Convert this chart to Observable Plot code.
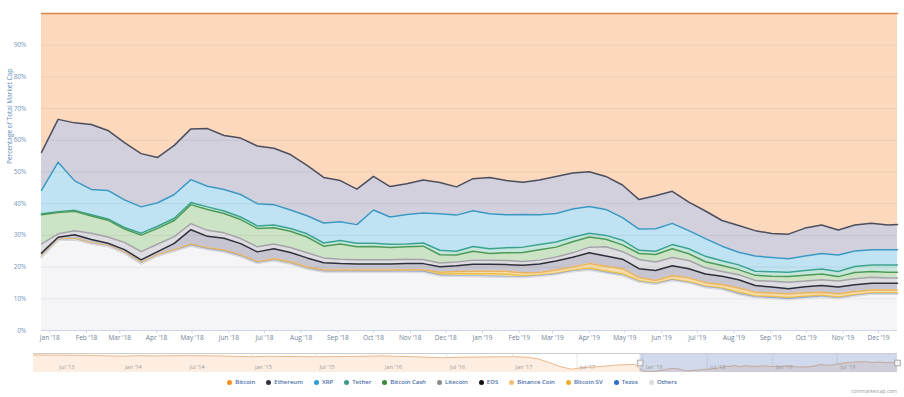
<!DOCTYPE html>
<html><head><meta charset="utf-8">
<script src="https://cdn.jsdelivr.net/npm/d3@7"></script>
<script src="https://cdn.jsdelivr.net/npm/@observablehq/plot@0.6"></script>
<style>
body{margin:0;background:#fff;font-family:"Open Sans",sans-serif;}
#wrap{width:904px;height:397px;position:relative;overflow:hidden}
#wrap svg{display:block}
.legend{display:flex;justify-content:center;align-items:center;height:14px;font-size:6px;font-weight:600;color:#4b6ea8;white-space:nowrap}
.legend .item{display:flex;align-items:center;margin:0 5.5px}
.legend .dot{display:inline-block;width:5px;height:5px;border-radius:50%;margin-right:3px}
.caption{position:absolute;right:7px;top:388px;font-size:5px;color:#9a9a9a}
</style></head><body><div id="wrap"></div>
<script>
// ---- data (percentage of total market cap) ----
const dates = ["2017-12-25","2018-01-08","2018-01-22","2018-02-05","2018-02-19","2018-03-05","2018-03-19","2018-04-02","2018-04-16","2018-04-30","2018-05-14","2018-05-28","2018-06-11","2018-06-25","2018-07-09","2018-07-23","2018-08-06","2018-08-20","2018-09-03","2018-09-17","2018-10-01","2018-10-15","2018-10-29","2018-11-12","2018-11-26","2018-12-10","2018-12-24","2019-01-07","2019-01-21","2019-02-04","2019-02-18","2019-03-04","2019-03-18","2019-04-01","2019-04-15","2019-04-29","2019-05-13","2019-05-27","2019-06-10","2019-06-24","2019-07-08","2019-07-22","2019-08-05","2019-08-19","2019-09-02","2019-09-16","2019-09-30","2019-10-14","2019-10-28","2019-11-11","2019-11-25","2019-12-09","2019-12-17"];
const btc = [43.8,33.4,34.5,35.0,36.9,40.7,44.2,45.4,41.6,36.4,36.3,38.5,39.3,41.8,42.5,44.5,47.9,51.7,52.7,55.4,51.4,54.6,53.7,52.5,53.3,54.7,52.1,51.7,52.7,53.2,52.5,51.4,50.3,49.9,51.4,54.1,58.7,57.5,56.1,59.5,62.3,65.3,66.9,68.5,69.4,69.6,67.7,66.7,68.3,66.7,66.2,66.7,66.6];
const eth = [12.0,13.5,18.3,20.5,18.9,18.1,16.8,14.3,15.5,16.0,18.2,17.0,17.8,18.2,17.8,17.5,15.9,14.4,13.0,11.2,10.6,9.6,9.7,10.4,9.9,8.9,10.1,11.5,10.8,10.2,11.0,11.7,11.4,11.0,10.4,10.3,9.3,10.4,10.1,9.0,8.7,8.1,8.4,8.0,7.6,7.8,8.8,9.0,7.9,8.2,8.3,7.8,7.9];
const xrp = [7.4,15.6,9.3,8.0,9.0,8.7,8.3,7.4,7.5,7.2,6.5,6.8,7.1,7.0,6.4,5.8,5.7,6.3,5.9,5.9,10.5,8.6,9.3,9.5,11.5,11.4,11.3,11.0,10.4,10.3,9.4,9.0,8.9,8.4,8.2,7.1,6.7,7.1,6.7,5.7,5.6,4.6,4.0,4.8,4.5,4.2,4.6,4.9,5.2,4.9,4.8,4.8,4.8];
const usdt = [0.3,0.3,0.3,0.4,0.4,0.5,0.6,0.7,0.7,0.7,0.8,0.8,0.8,0.8,0.9,0.9,1.0,1.0,1.1,1.1,1.0,1.0,0.9,1.0,1.4,1.2,1.5,1.5,1.6,1.7,1.6,1.6,1.4,1.2,1.2,1.5,1.0,1.0,1.3,1.6,1.7,1.5,1.5,1.3,1.4,1.4,1.5,1.6,1.6,1.9,2.1,2.3,2.3];
const bch = [9.2,6.7,6.1,5.4,5.3,4.2,5.2,4.9,5.1,6.0,6.6,6.1,6.0,5.8,5.1,5.1,5.0,3.7,4.8,4.1,4.2,3.9,3.9,4.2,2.6,2.2,2.8,2.1,2.4,2.8,3.3,3.1,3.5,3.2,2.4,2.1,1.9,2.4,2.8,2.1,1.9,1.9,1.6,1.6,1.6,1.8,1.8,1.8,1.4,2.0,1.8,1.8,1.8];
const ltc = [2.9,1.1,1.3,2.0,2.0,2.3,2.6,2.4,2.1,1.9,1.9,1.7,1.6,1.6,1.5,1.6,1.6,1.5,1.4,1.3,1.3,1.3,1.4,1.3,1.2,1.2,1.3,1.3,1.3,1.2,1.2,1.3,1.4,1.8,2.9,2.4,2.9,2.7,2.6,2.6,2.0,1.5,1.6,1.6,1.8,2.0,1.8,1.8,1.9,1.9,1.9,1.7,1.7];
const eos = [1.0,0.7,1.2,1.0,0.7,0.8,0.9,1.0,2.0,4.6,3.6,3.8,3.6,3.1,3.2,3.0,2.9,2.3,2.0,1.9,1.9,1.9,1.9,1.9,1.7,1.8,2.2,2.2,2.1,2.4,2.7,2.8,3.1,3.4,3.2,3.0,2.8,3.1,3.1,2.9,2.7,2.6,2.6,2.1,1.9,1.6,1.9,2.1,2.1,2.1,2.1,2.1,2.1];
const bnb = [0.2,0.2,0.3,0.3,0.2,0.3,0.3,0.3,0.4,0.4,0.4,0.4,0.4,0.4,0.5,0.5,0.5,0.5,0.5,0.5,0.5,0.5,0.6,0.6,0.6,0.7,0.8,0.8,0.9,0.9,0.8,1.0,1.0,1.4,1.5,1.6,1.0,0.9,1.1,1.2,1.1,1.1,1.3,1.1,1.1,1.2,1.1,1.0,1.0,1.0,0.9,0.9,0.9];
const bsv = [0,0,0,0,0,0,0,0,0,0,0,0,0,0,0,0,0,0,0,0,0,0,0,0,0.4,0.6,0.7,0.8,0.8,0.4,0.3,0.3,0.3,0.5,0.5,0.5,0.3,0.2,0.3,0.3,0.3,0.3,0.5,0.4,0.4,0.4,0.4,0.4,0.4,0.3,0.3,0.3,0.3];
const xtz = [0.1,0.1,0.1,0.1,0.1,0.1,0.1,0.1,0.1,0.2,0.2,0.2,0.2,0.2,0.2,0.2,0.2,0.2,0.2,0.2,0.2,0.2,0.2,0.3,0.2,0.2,0.2,0.2,0.2,0.2,0.2,0.2,0.2,0.2,0.2,0.2,0.2,0.2,0.2,0.2,0.2,0.2,0.3,0.3,0.3,0.3,0.3,0.2,0.2,0.2,0.2,0.2,0.2];
const others = [23.1,28.4,28.6,27.3,26.5,24.3,21.0,23.5,25.0,26.6,25.5,24.7,23.2,21.1,21.9,20.9,19.3,18.4,18.4,18.4,18.4,18.4,18.4,18.3,17.2,17.1,17.0,16.9,16.8,16.7,17.0,17.6,18.5,19.0,18.1,17.2,15.2,14.5,15.7,14.9,13.5,12.9,11.3,10.3,10.0,9.7,10.1,10.5,10.0,10.8,11.4,11.4,11.4];

const seriesNames = ["Bitcoin","Ethereum","XRP","Tether","Bitcoin Cash","Litecoin","EOS","Binance Coin","Bitcoin SV","Tezos","Others"];
const seriesValues = [btc, eth, xrp, usdt, bch, ltc, eos, bnb, bsv, xtz, others];
const fillColors = ["#fcd9bd","#d2d0dc","#bfe3f2","#c4e6dd","#cde3c6","#dedee2","#c7c5cf","#f5dcaa","#f6e3a1","#c9d6ee","#f5f5f7"];
const lineColors = ["#d7854c","#4d4d5c","#3c97c2","#3aa391","#4c9a57","#a3a3a8","#30303c","#e9b35f","#ebc04a","#8ea4cf","#dcdcdf"];
const legendColors = ["#f7931a","#333340","#2a9fd6","#3c9c8c","#3b8a3b","#8a8a8a","#111111","#f0c07a","#e8b030","#2e6bd0","#dddddd"];
const yTicks = [0,10,20,30,40,50,60,70,80,90];

// navigator (full history of Bitcoin dominance)
const navPreDates = ["2013-04-28","2013-07-01","2013-10-01","2014-01-01","2014-02-15","2014-04-01","2014-07-01","2014-10-01","2015-01-01","2015-02-15","2015-04-01","2015-07-01","2015-10-01","2016-01-01","2016-04-01","2016-06-15","2016-08-01","2016-10-01","2017-01-01","2017-02-15","2017-03-15","2017-04-15","2017-05-15","2017-06-15","2017-07-15","2017-08-15","2017-09-15","2017-10-15","2017-11-15","2017-12-10"];
const navPreBtc = [94.5,94,93,90,92,91,92,91,88,90,89,88,89,91,88,84,86,87,88,86,80,66,52,42,48,50,53,57,59,60];
const navTickDates = ["2013-07-01","2014-01-01","2014-07-01","2015-01-01","2015-07-01","2016-01-01","2016-07-01","2017-01-01","2017-07-01","2018-01-01","2018-07-01","2019-01-01","2019-07-01"];

// ---- build tables ----
const parse = s => new Date(s + "T00:00:00Z");
const fillOf = Object.fromEntries(seriesNames.map((s,i)=>[s, fillColors[i]]));
const lineOf = Object.fromEntries(seriesNames.map((s,i)=>[s, lineColors[i]]));
const table = [];
seriesNames.forEach((s,i)=> seriesValues[i].forEach((v,j)=> table.push({date: parse(dates[j]), series: s, value: v})));
const stackOrder = seriesNames.slice().reverse(); // bottom (Others) first
const fmt = d3.utcFormat("%b '%y");
const font = "'Open Sans', sans-serif";

const main = Plot.plot({
  width: 904, height: 345,
  marginLeft: 41, marginRight: 7, marginTop: 13, marginBottom: 15,
  style: {fontFamily: font, fontSize: "6.5px", background: "transparent", overflow: "visible"},
  x: {type: "utc", domain: [parse(dates[0]), parse(dates[dates.length-1])]},
  y: {domain: [0, 100]},
  marks: [
    Plot.areaY(table, Plot.stackY({x: "date", y: "value", z: "series", fill: d => fillOf[d.series], order: stackOrder})),
    Plot.ruleY(yTicks.filter(t => t > 0), {stroke: "#000", strokeOpacity: 0.06}),
    Plot.lineY(table, Plot.stackY2({x: "date", y: "value", z: "series", stroke: d => lineOf[d.series], order: stackOrder, strokeWidth: 1.5})),
    Plot.ruleY([0], {stroke: "#ccd6eb"}),
    Plot.axisX({ticks: d3.utcMonth.every(1), tickFormat: fmt, tickSize: 3, tickPadding: 2, stroke: "#ccd6eb", fill: "#6f7f95", label: null}),
    Plot.axisY({ticks: yTicks, tickFormat: d => d + "%", tickSize: 0, tickPadding: 15, fill: "#6f95c0", label: null}),
    Plot.text(["Percentage of Total Market Cap"], {text: d => d, frameAnchor: "left", rotate: -90, dx: -32, dy: -8, fill: "#5d88bd", fontSize: 6.5})
  ]
});

const navTable = navPreDates.map((d,i)=>({date: parse(d), value: navPreBtc[i]}))
  .concat(dates.map((d,i)=>({date: parse(d), value: btc[i]})));
const navTicks = navTickDates.map(parse);
const selStart = parse(dates[0]), selEnd = parse(dates[dates.length-1]);

const nav = Plot.plot({
  width: 904, height: 30,
  marginLeft: 33, marginRight: 7, marginTop: 8, marginBottom: 3,
  style: {fontFamily: font, fontSize: "5.5px", background: "transparent", overflow: "visible"},
  x: {type: "utc", domain: [parse(navPreDates[0]), selEnd], axis: null},
  y: {domain: [30, 100], axis: null},
  marks: [
    Plot.ruleX(navTicks, {stroke: "#e6e6e6"}),
    Plot.areaY(navTable, {x: "date", y1: 30, y2: "value", fill: "#fdeee1"}),
    Plot.lineY(navTable, {x: "date", y: "value", stroke: "#ebb98f", strokeWidth: 1}),
    Plot.rect([0], {x1: () => selStart, x2: () => selEnd, y1: 30, y2: 100, fill: "#6685c2", fillOpacity: 0.3}),
    Plot.ruleY([100], {stroke: "#cccccc"}),
    Plot.text(navTicks, {x: d => d, text: d => fmt(d), frameAnchor: "bottom", textAnchor: "start", dx: 3, dy: -4, fill: "#999999"}),
    Plot.dot([selStart, selEnd], {x: d => d, symbol: "square", r: 3.2, fill: "#f2f2f2", stroke: "#999999", strokeWidth: 0.8})
  ]
});

const wrap = document.getElementById("wrap");
wrap.appendChild(main);
wrap.appendChild(nav);

const legend = document.createElement("div");
legend.className = "legend";
seriesNames.forEach((s,i)=>{
  const it = document.createElement("span"); it.className = "item";
  const dot = document.createElement("span"); dot.className = "dot"; dot.style.background = legendColors[i];
  it.appendChild(dot); it.appendChild(document.createTextNode(s));
  legend.appendChild(it);
});
wrap.appendChild(legend);
const cap = document.createElement("div"); cap.className = "caption"; cap.textContent = "coinmarketcap.com";
wrap.appendChild(cap);
</script>
</body></html>
